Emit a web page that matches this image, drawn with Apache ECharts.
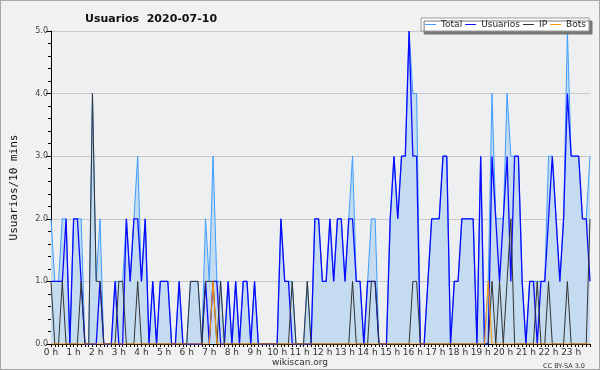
<!DOCTYPE html>
<html>
<head>
<meta charset="utf-8">
<script src="https://cdn.jsdelivr.net/npm/echarts@6/dist/echarts.min.js"></script>
<style>
  html, body { margin: 0; padding: 0; }
  #box { width: 600px; height: 370px; box-sizing: border-box; border: 1px solid #a8a8a8; background: #f1f1f1; }
</style>
</head>
<body>
<div id="box"></div>
<script>
// 10 minute slots, 144 per day
var hours = [];
for (var h = 0; h < 24; h++) {
  for (var m = 0; m < 6; m++) {
    hours.push(h + " h");
  }
}
var totalData = [
  2,1,1,2,2,0, 2,2,2,0,0,4, 1,2,0,0,0,1, 1,1,2,1,2,3,
  1,2,0,1,0,1, 1,1,0,0,1,0, 0,1,1,1,0,2, 1,3,1,1,0,1,
  0,1,0,1,1,0, 1,0,0,0,0,0, 0,2,1,1,1,0, 0,0,1,0,2,2,
  1,1,2,1,2,2, 1,2,3,1,1,0, 1,2,2,0,0,0, 2,3,2,3,3,5,
  4,4,0,0,1,2, 2,2,3,3,0,1, 1,2,2,2,2,0, 3,0,1,4,2,2,
  2,4,3,3,3,1, 0,1,1,1,1,1, 3,3,2,1,2,5, 3,3,3,2,2,3
];
var usuariosData = [
  1,1,1,1,2,0, 2,2,1,0,0,0, 0,1,0,0,0,1, 0,0,2,1,2,2,
  1,2,0,1,0,1, 1,1,0,0,1,0, 0,0,0,0,0,1, 0,1,1,0,0,1,
  0,1,0,1,1,0, 1,0,0,0,0,0, 0,2,1,1,0,0, 0,0,0,0,2,2,
  1,1,2,1,2,2, 1,2,2,1,1,0, 1,1,1,0,0,0, 2,3,2,3,3,5,
  3,3,0,0,1,2, 2,2,3,3,0,1, 1,2,2,2,2,0, 3,0,0,3,2,1,
  2,3,1,3,3,1, 0,1,1,0,1,1, 2,3,2,1,2,4, 3,3,3,2,2,1
];
var ipData = [
  1,0,0,1,0,0, 0,0,1,0,0,4, 1,1,0,0,0,0, 1,1,0,0,0,1,
  0,0,0,0,0,0, 0,0,0,0,0,0, 0,1,1,1,0,1, 1,1,0,1,0,0,
  0,0,0,0,0,0, 0,0,0,0,0,0, 0,0,0,0,1,0, 0,0,1,0,0,0,
  0,0,0,0,0,0, 0,0,1,0,0,0, 0,1,1,0,0,0, 0,0,0,0,0,0,
  1,1,0,0,0,0, 0,0,0,0,0,0, 0,0,0,0,0,0, 0,0,0,1,0,1,
  0,1,2,0,0,0, 0,0,0,1,0,0, 1,0,0,0,0,1, 0,0,0,0,0,2
];
var botsData = [
  0,0,0,0,0,0, 0,0,0,0,0,0, 0,0,0,0,0,0, 0,0,0,0,0,0,
  0,0,0,0,0,0, 0,0,0,0,0,0, 0,0,0,0,0,0, 0,1,0,0,0,0,
  0,0,0,0,0,0, 0,0,0,0,0,0, 0,0,0,0,0,0, 0,0,0,0,0,0,
  0,0,0,0,0,0, 0,0,0,0,0,0, 0,0,0,0,0,0, 0,0,0,0,0,0,
  0,0,0,0,0,0, 0,0,0,0,0,0, 0,0,0,0,0,0, 0,0,1,0,0,0,
  0,0,0,0,0,0, 0,0,0,0,0,0, 0,0,0,0,0,0, 0,0,0,0,0,0
];

var chart = echarts.init(document.getElementById("box"));
var font = "DejaVu Sans";

function lineSeries(name, data, color, width) {
  return {
    name: name,
    type: "line",
    data: data,
    showSymbol: false,
    symbol: "none",
    lineStyle: { color: color, width: width },
    itemStyle: { color: color },
  };
}

var total = lineSeries("Total", totalData, "#3d9dff", 1);
total.areaStyle = { color: "#c4dbf0", opacity: 1 };

var option = {
  animation: false,
  title: [
    {
      text: "Usuarios  2020-07-10",
      left: 79,
      top: 8,
      textStyle: { fontFamily: font, fontSize: 11, fontWeight: "bold", color: "#111" },
    },
    {
      text: "wikiscan.org",
      left: "center",
      top: 352,
      textStyle: { fontFamily: font, fontSize: 9, fontWeight: "normal", color: "#333" },
    },
    {
      text: "CC BY-SA 3.0",
      right: 9,
      top: 357,
      textStyle: { fontFamily: font, fontSize: 6.5, fontWeight: "normal", color: "#333" },
    },
  ],
  legend: {
    right: 10,
    top: 17,
    padding: [2, 3, 2, 4],
    itemGap: 3,
    itemWidth: 11,
    itemHeight: 1,
    icon: "rect",
    backgroundColor: "#fff",
    borderColor: "#999",
    borderWidth: 1,
    shadowColor: "#777",
    shadowOffsetX: 3,
    shadowOffsetY: 3,
    shadowBlur: 0,
    textStyle: { fontFamily: font, fontSize: 9, color: "#222" },
    data: ["Total", "Usuarios", "IP", "Bots"],
  },
  grid: {
    left: 44,
    right: 9,
    top: 30,
    bottom: 25,
    show: true,
    backgroundColor: "#edeff1",
    borderWidth: 0,
  },
  xAxis: {
    type: "category",
    data: hours,
    boundaryGap: false,
    axisLine: { lineStyle: { color: "#000", width: 1 } },
    axisTick: { interval: 0, length: 3, lineStyle: { color: "#000" } },
    axisLabel: {
      interval: function (index) {
        return index % 6 === 0;
      },
      margin: 4,
      fontFamily: font,
      fontSize: 9,
      color: "#333",
    },
    splitLine: { show: false },
  },
  yAxis: {
    type: "value",
    name: "Usuarios/10 mins",
    nameLocation: "middle",
    nameGap: 31,
    nameTextStyle: { fontFamily: "DejaVu Sans Mono", fontSize: 11, color: "#111" },
    min: 0,
    max: 5,
    interval: 1,
    axisLine: { show: true, lineStyle: { color: "#000", width: 1 } },
    axisTick: { show: true, length: 5, lineStyle: { color: "#000" } },
    minorTick: { show: true, splitNumber: 5, length: 3, lineStyle: { color: "#000" } },
    axisLabel: {
      margin: 3,
      fontFamily: font,
      fontSize: 8,
      color: "#444",
      formatter: function (v) {
        return v.toFixed(1);
      },
    },
    splitLine: { show: true, lineStyle: { color: "#c8c8c8", width: 1 } },
  },
  series: [
    total,
    lineSeries("Usuarios", usuariosData, "#0a0aff", 1.3),
    lineSeries("IP", ipData, "#333", 1),
    lineSeries("Bots", botsData, "#ff9500", 1),
  ],
};
chart.setOption(option);
</script>
</body>
</html>
